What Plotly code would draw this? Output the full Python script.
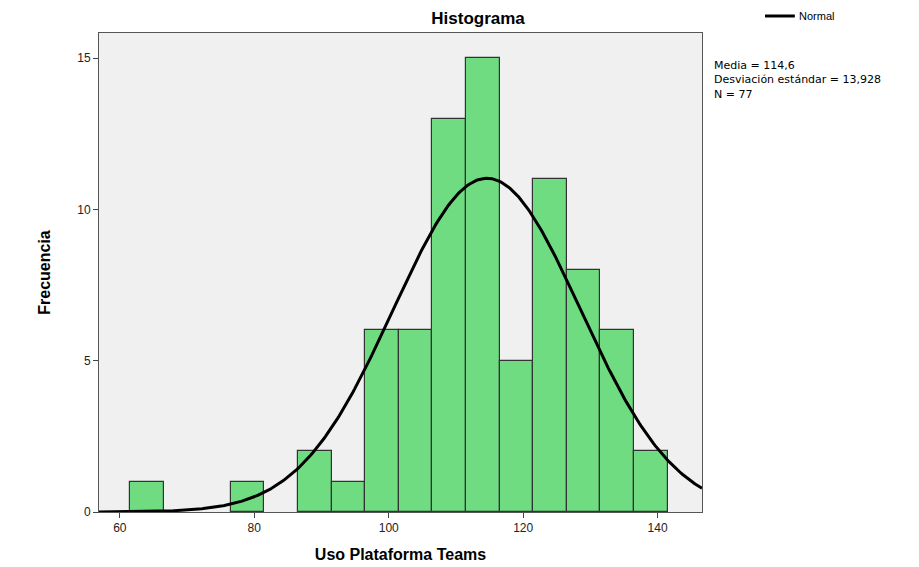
import numpy as np
import plotly.graph_objects as go

# Data
bin_centers = [64, 79, 89, 94, 99, 104, 109, 114, 119, 124, 129, 134, 139]
counts = [1, 1, 2, 1, 6, 6, 13, 15, 5, 11, 8, 6, 2]
bin_width = 5
mean_val = 114.6
sd_val = 13.928
n_val = 77
x_ticks = [60, 80, 100, 120, 140]
y_ticks = [0, 5, 10, 15]

x_range = [56.9, 146.6]
y_range = [0, 15.83]

# Fitted normal curve (from the stated mean / SD)
xc = np.linspace(x_range[0], x_range[1], 400)
yc = n_val * bin_width / (sd_val * np.sqrt(2 * np.pi)) * np.exp(-0.5 * ((xc - mean_val) / sd_val) ** 2)

fig = go.Figure()
fig.add_trace(go.Bar(
    x=bin_centers, y=counts, width=bin_width,
    marker=dict(color="#70DC82", line=dict(color="#333333", width=1.2)),
    showlegend=False, hoverinfo="x+y",
))
fig.add_trace(go.Scatter(
    x=xc, y=yc, mode="lines", name="Normal",
    line=dict(color="black", width=3), showlegend=False,
))

fig.update_layout(
    width=911, height=559,
    margin=dict(l=91, r=217, t=25, b=55, autoexpand=False),
    paper_bgcolor="white", plot_bgcolor="#F0F0F0",
    font=dict(family="Liberation Sans, Arial, sans-serif", color="black"),
    title=dict(text="<b>Histograma</b>", x=0.516, xanchor="center", y=0.982, yanchor="middle",
               font=dict(size=17)),
    bargap=0,
    showlegend=False,
    xaxis=dict(range=x_range, tickvals=x_ticks, ticks="outside", ticklen=5, tickcolor="#444",
               showgrid=False, zeroline=False, showline=True, linecolor="#555", mirror=True,
               tickfont=dict(size=12, color="#222"),
               title=dict(text="<b>Uso Plataforma Teams</b>", font=dict(size=16), standoff=14)),
    yaxis=dict(range=y_range, tickvals=y_ticks, ticks="outside", ticklen=5, tickcolor="#444",
               showgrid=False, zeroline=False, showline=True, linecolor="#555", mirror=True,
               tickfont=dict(size=12, color="#222"),
               title=dict(text="<b>Frecuencia</b>", font=dict(size=16), standoff=22)),
)

# Legend entry for the normal curve
fig.add_shape(type="line", xref="paper", yref="paper", x0=1.1045, x1=1.154, y0=1.0355, y1=1.0355,
              line=dict(color="black", width=3))
fig.add_annotation(
    xref="paper", yref="paper", x=1.157, y=1.0355, xanchor="left", yanchor="middle",
    text="Normal", showarrow=False, font=dict(size=11, color="black"),
)

fig.add_annotation(
    xref="paper", yref="paper", x=1.016, y=0.95, xanchor="left", yanchor="top",
    text=f"Media = {str(mean_val).replace('.', ',')}<br>Desviación estándar = {str(sd_val).replace('.', ',')}<br>N = {n_val}",
    showarrow=False, align="left",
    font=dict(family="DejaVu Sans, sans-serif", size=11, color="black"),
)

fig.write_html("out.html")
